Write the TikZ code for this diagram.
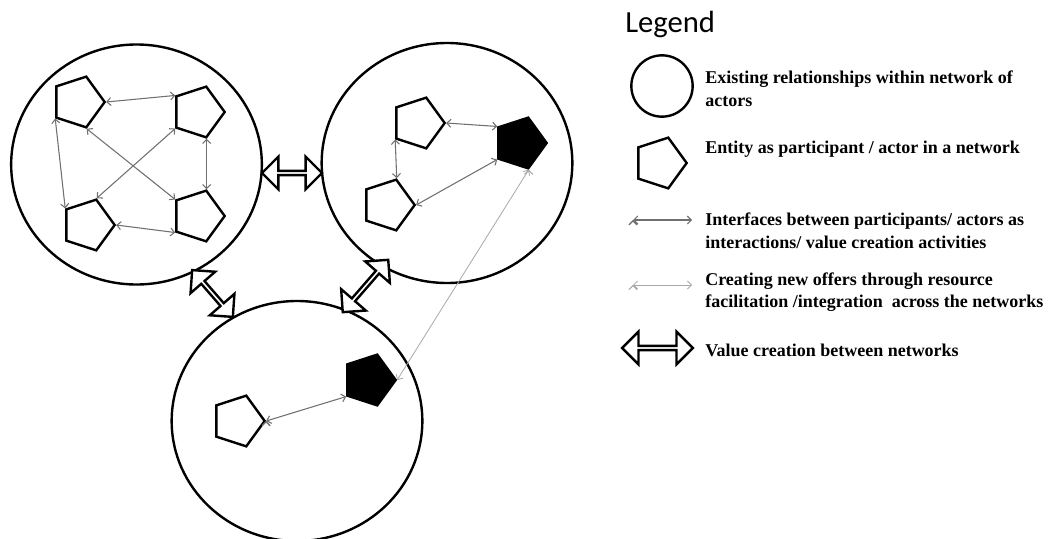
\documentclass[tikz,border=0pt]{standalone}
\usepackage{fontspec}
\setmainfont{Liberation Serif}
\newfontfamily\headfont{Carlito}
\usepackage{tikz}
\usetikzlibrary{arrows.meta,shapes,positioning}
\definecolor{linkgray}{HTML}{707070}
\definecolor{crossgray}{HTML}{A8A8A8}
\tikzset{
  net/.style = {
    ellipse,
    draw,
    line width = 1.8pt,
    minimum width = 188pt,
    minimum height = 180pt
  }
  ,
  actor/.style = {
    regular polygon,
    regular polygon sides = 5,
    shape border rotate = -90,
    draw,
    line width = 1.8pt,
    minimum size = 40pt,
    inner sep = 0pt
  }
  ,
  actor-key/.style = {
    actor,
    fill = black
  }
  , % interfaces inside one network
  link/.style = {
    {Straight Barb[length=3pt,width=6pt]}-{Straight Barb[length=3pt,width=6pt]},
    draw = linkgray,
    line width = 0.8pt
  }
  , % offers across the networks
  link-cross/.style = {
    link,
    draw = crossgray,
    line width = 0.6pt
  }
  ,
  value-arrow/.style = {
    double arrow,
    draw,
    fill = white,
    line width = 1.8pt,
    inner sep = 0pt,
    minimum width = 24.5pt,
    double arrow head extend = 6pt
  }
  ,
  label-key/.style = {
    anchor = west,
    align = left,
    inner sep = 0pt,
    font = \fontsize{13.5}{17}\selectfont\bfseries
  }
}

\begin{document}
\begin{tikzpicture}[x=0.75pt,y=-0.75pt]
    \useasboundingbox (0,0) rectangle (1050,539);
    % networks
    \node [net] (na) at (136.5,164.5) {};
    \node [net] (nb) at (447,163) {};
    \node [net] (nc) at (297,421) {};
    \node [value-arrow, minimum height = 45pt] (vab) at (292,173) {};
    \node [value-arrow, minimum height = 46.5pt, rotate = -49] (vac) at (212.5,293.5) {};
    \node [value-arrow, minimum height = 52pt, rotate = 49] (vbc) at (365.5,286) {};
    % actors
    \node [actor] (a1) at (78,102) {};
    \node [actor] (a2) at (198,112) {};
    \node [actor] (a3) at (88,225) {};
    \node [actor] (a4) at (198,216) {};
    \node [actor] (b1) at (418,123) {};
    \node [actor] (b2) at (388,205) {};
    \node [actor-key] (b3) at (520,143) {};
    \node [actor] (c1) at (238,421) {};
    \node [actor-key] (c2) at (369,380) {};
    \path [link] (a1.corner 1) edge (a2.corner 3)
                 (a1.corner 4) edge (a3.corner 3)
                 (a1.corner 5) edge (a4.corner 3)
                 (a2.corner 4) edge (a3.corner 2)
                 (a2.corner 5) edge (a4.corner 2)
                 (a3.corner 1) edge (a4.corner 4)
                 (b1.corner 1) edge (b3.corner 3)
                 (b1.corner 4) edge (b2.corner 2)
                 (b2.corner 1) edge (b3.corner 4)
                 (c1.corner 1) edge (c2.corner 4);
    \path [link-cross] (b3.corner 5) edge (c2.corner 1);
    % legend
    \node [anchor = base west, inner sep = 0pt, font = \headfont\fontsize{23}{27}\selectfont] (legend) at (625,32) {Legend};
    \node [circle, draw, line width = 1.8pt, minimum size = 46pt] (key-net) at (662,86) {};
    \node [label-key] (t-net) at (705,88.5) {Existing relationships within network of\\actors};
    \node [actor] (key-actor) at (660,163) {};
    \node [label-key] (t-actor) at (705,149) {Entity as participant / actor in a network};
    \coordinate (key-l1) at (633,220);
    \coordinate (key-r1) at (692,220);
    \path [link] (key-l1) edge (key-r1);
    \node [label-key] (t-link) at (705,230.5) {Interfaces between participants/ actors as\\interactions/ value creation activities};
    \coordinate (key-l2) at (633,285);
    \coordinate (key-r2) at (692,285);
    \path [link-cross] (key-l2) edge (key-r2);
    \node [label-key] (t-cross) at (705,292) {Creating new offers through resource\\facilitation /integration\ \ across the networks};
    \node [value-arrow, minimum height = 53pt] (key-value) at (657.5,348) {};
    \node [label-key] (t-value) at (705,350) {Value creation between networks};
\end{tikzpicture}
\end{document}
